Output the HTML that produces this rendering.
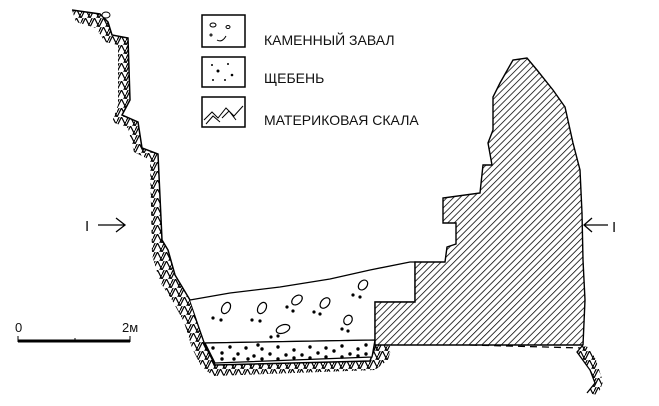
<!DOCTYPE html>
<html><head><meta charset="utf-8"><style>
html,body{margin:0;padding:0;background:#fff;}
svg{display:block}
text{font-family:"Liberation Sans",sans-serif;fill:#111}
</style></head><body>
<svg width="659" height="406" viewBox="0 0 659 406" xmlns="http://www.w3.org/2000/svg">
<defs>
<pattern id="h" width="4.6" height="4.6" patternUnits="userSpaceOnUse" patternTransform="rotate(45)">
<rect width="5" height="5" fill="#fff"/><line x1="0" y1="0" x2="0" y2="5" stroke="#000" stroke-width="1.5"/>
</pattern>
<pattern id="z" width="9" height="9" patternUnits="userSpaceOnUse">
<rect width="9" height="9" fill="#fff"/>
<path d="M0 9 L4.5 0 L9 9 M0 4.5 L2.2 0 M6.8 9 L9 4.5" stroke="#000" stroke-width="1.2" fill="none"/>
</pattern>
</defs>

<path d="M72 10 L100 14 L108 22 L112 35 L128 38 L130 100 L122 115 L138 122 L142 148 L158 154 L162 240 L168 250 L175 275 L190 300 L197 322 L205 345 L215 365 L370 361 L376 345 L392 346 L388 360 L375 370 L214 376 L202 368 L192 348 L184 322 L172 300 L160 282 L152 255 L150 160 L134 152 L128 128 L112 122 L118 105 L118 45 L105 42 L96 28 L76 22 Z" fill="url(#z)"/>
<path d="M72 10 L100 14 L108 22 L112 35 L128 38 L130 100 L122 115 L138 122 L142 148 L158 154 L162 240 L168 250 L175 275 L190 300 L197 322 L205 345 L215 365 L370 361 L376 345" fill="none" stroke="#000" stroke-width="1.5"/>
<ellipse cx="106" cy="15" rx="4" ry="3" fill="#fff" stroke="#000"/>

<path d="M190 300 L230 293 L280 287 L330 279 L370 270 L410 262 L415 262 L415 302 L375 302 L375 340 L205 343" fill="#fff" stroke="#000" stroke-width="1.3"/>
<g fill="none" stroke="#000" stroke-width="1.2">
<ellipse cx="226" cy="308" rx="4" ry="6" transform="rotate(30 226 308)"/>
<ellipse cx="262" cy="308" rx="4" ry="6" transform="rotate(30 262 308)"/>
<ellipse cx="297" cy="300" rx="4" ry="6" transform="rotate(50 297 300)"/>
<ellipse cx="325" cy="303" rx="4" ry="6" transform="rotate(40 325 303)"/>
<ellipse cx="363" cy="285" rx="4" ry="5.5" transform="rotate(40 363 285)"/>
<ellipse cx="348" cy="320" rx="4" ry="5" transform="rotate(30 348 320)"/>
<ellipse cx="283" cy="329" rx="4" ry="7" transform="rotate(70 283 329)"/>
</g>
<g fill="#000">
<circle cx="213" cy="318" r="1.6"/><circle cx="221" cy="320" r="1.6"/>
<circle cx="252" cy="320" r="1.6"/><circle cx="260" cy="321" r="1.6"/>
<circle cx="287" cy="307" r="1.6"/><circle cx="293" cy="311" r="1.6"/>
<circle cx="314" cy="312" r="1.6"/><circle cx="320" cy="314" r="1.6"/>
<circle cx="353" cy="295" r="1.6"/><circle cx="360" cy="297" r="1.6"/>
<circle cx="342" cy="329" r="1.6"/><circle cx="348" cy="331" r="1.6"/>
<circle cx="271" cy="337" r="1.6"/><circle cx="278" cy="336" r="1.6"/>
</g>

<path d="M205 343 L375 340 L372 357 L215 363 Z" fill="#fff" stroke="#000" stroke-width="1.3"/>
<g fill="#000">
<circle cx="213" cy="348" r="1.7"/><circle cx="222" cy="353" r="1.7"/><circle cx="230" cy="347" r="1.7"/><circle cx="238" cy="354" r="1.7"/>
<circle cx="246" cy="348" r="1.7"/><circle cx="254" cy="356" r="1.7"/><circle cx="262" cy="349" r="1.7"/><circle cx="270" cy="354" r="1.7"/>
<circle cx="278" cy="347" r="1.7"/><circle cx="286" cy="355" r="1.7"/><circle cx="294" cy="350" r="1.7"/><circle cx="302" cy="355" r="1.7"/>
<circle cx="310" cy="347" r="1.7"/><circle cx="318" cy="353" r="1.7"/><circle cx="326" cy="348" r="1.7"/><circle cx="334" cy="351" r="1.7"/>
<circle cx="342" cy="346" r="1.7"/><circle cx="350" cy="354" r="1.7"/><circle cx="358" cy="349" r="1.7"/><circle cx="366" cy="345" r="1.7"/>
<circle cx="222" cy="359" r="1.7"/><circle cx="234" cy="359" r="1.7"/><circle cx="248" cy="359" r="1.7"/><circle cx="262" cy="359" r="1.7"/>
<circle cx="278" cy="359" r="1.7"/><circle cx="294" cy="358" r="1.7"/><circle cx="310" cy="358" r="1.7"/><circle cx="326" cy="357" r="1.7"/>
<circle cx="342" cy="357" r="1.7"/><circle cx="358" cy="356" r="1.7"/><circle cx="366" cy="354" r="1.7"/><circle cx="258" cy="345" r="1.7"/>
</g>

<path d="M375 302 L415 302 L415 262 L445 262 L447 247 L456 244 L456 223 L443 223 L443 198 L480 193 L483 165 L492 165 L488 143 L493 130 L493 97 L500 83 L513 60 L527 58 L537 70 L553 90 L565 107 L573 143 L580 170 L582 213 L583 260 L585 300 L583 345 L470 345 L375 345 Z" fill="url(#h)" stroke="#000" stroke-width="1.4"/>
<line x1="470" y1="345" x2="583" y2="348" stroke="#000" stroke-width="1.3" stroke-dasharray="7,5"/>
<path d="M583 345 L577 352 L590 370 L595 383 L587 393 L598 395 L603 382 L596 360 L590 348 Z" fill="url(#z)"/>
<path d="M583 345 L577 352 L590 370 L595 383 L587 393" fill="none" stroke="#000" stroke-width="1.3"/>

<rect x="202" y="15" width="43" height="32" fill="#fff" stroke="#000" stroke-width="1.5"/>
<g fill="none" stroke="#000" stroke-width="1"><ellipse cx="213" cy="25" rx="3" ry="2"/><ellipse cx="228" cy="27" rx="2" ry="1.5"/><path d="M217 40 q5 3 9 -4"/><circle cx="211" cy="35" r="1"/></g>
<rect x="202" y="57" width="43" height="30" fill="#fff" stroke="#000" stroke-width="1.5"/>
<g fill="#000"><circle cx="212" cy="65" r="1"/><circle cx="218" cy="71" r="1.5"/><circle cx="228" cy="64" r="1"/><circle cx="232" cy="75" r="1.3"/><circle cx="213" cy="80" r="1"/><circle cx="225" cy="80" r="1"/></g>
<rect x="202" y="97" width="43" height="30" fill="#fff" stroke="#000" stroke-width="1.5"/>
<path d="M204 120 L212 112 L218 118 L226 108 L234 116 L243 106 M206 124 L213 116 L220 122 M222 118 L229 111 L236 120" fill="none" stroke="#000" stroke-width="1"/>
<text x="264" y="45" font-size="14">КАМЕННЫЙ ЗАВАЛ</text>
<text x="264" y="83" font-size="14">ЩЕБЕНЬ</text>
<text x="264" y="125" font-size="14">МАТЕРИКОВАЯ СКАЛА</text>

<text x="85" y="231" font-size="15" font-family="Liberation Serif">I</text>
<path d="M98 225 H124 M116 218 L125 225 L116 232" fill="none" stroke="#000" stroke-width="1.3"/>
<path d="M592 218 L584 225 L592 232 M584 225 H608" fill="none" stroke="#000" stroke-width="1.3"/>
<text x="612" y="232" font-size="15" font-family="Liberation Serif">I</text>

<text x="15" y="332" font-size="13">0</text>
<text x="122" y="332" font-size="13">2м</text>
<line x1="18" y1="341" x2="130" y2="341" stroke="#000" stroke-width="3"/>
<line x1="18" y1="336" x2="18" y2="342" stroke="#000" stroke-width="1"/>
<line x1="75" y1="338" x2="75" y2="342" stroke="#000" stroke-width="1"/>
<line x1="130" y1="336" x2="130" y2="342" stroke="#000" stroke-width="1"/>
</svg>
</body></html>
